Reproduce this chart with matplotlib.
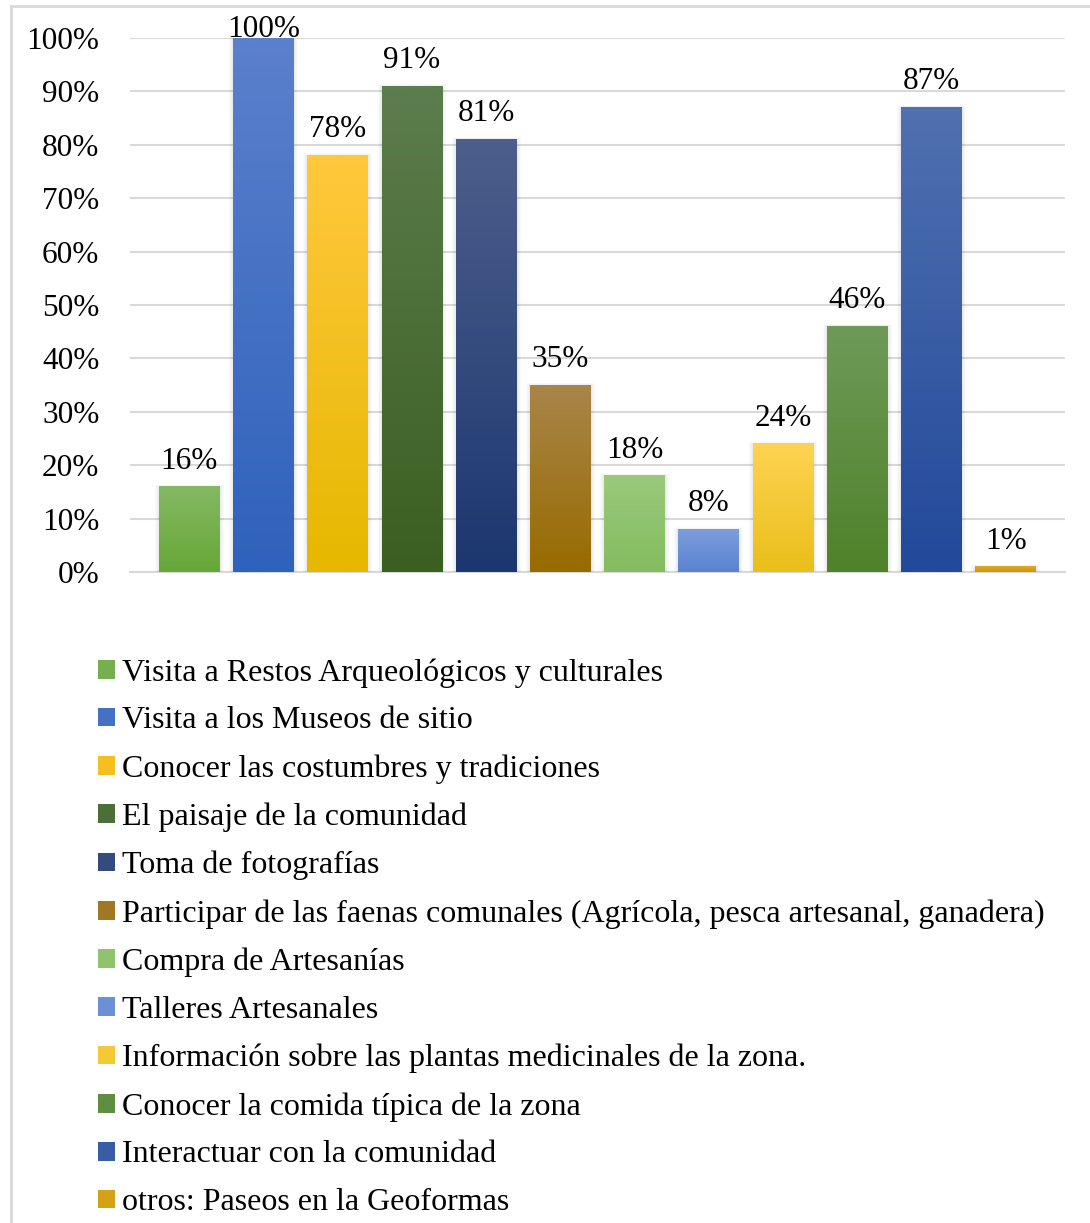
import numpy as np
import matplotlib
matplotlib.use("Agg")
import matplotlib.pyplot as plt
from matplotlib.patches import Patch, Rectangle
from matplotlib.colors import to_rgb
from matplotlib.lines import Line2D

# Data
categories = [
    "Visita a Restos Arqueológicos y culturales",
    "Visita a los Museos de sitio",
    "Conocer las costumbres y tradiciones",
    "El paisaje de la comunidad",
    "Toma de fotografías",
    "Participar de las faenas comunales (Agrícola, pesca artesanal, ganadera)",
    "Compra de Artesanías",
    "Talleres Artesanales",
    "Información sobre las plantas medicinales de la zona.",
    "Conocer la comida típica de la zona",
    "Interactuar con la comunidad",
    "otros: Paseos en la Geoformas",
]
values = [0.16, 1.00, 0.78, 0.91, 0.81, 0.35, 0.18, 0.08, 0.24, 0.46, 0.87, 0.01]
labels = ["16%", "100%", "78%", "91%", "81%", "35%", "18%", "8%", "24%", "46%", "87%", "1%"]

# gradient colours (top, bottom) for each bar
top_colors = ["#85b863", "#5b80cc", "#ffc83d", "#5c7d4d", "#4c5f8c", "#a88549",
              "#9ac97c", "#7d9edc", "#fed352", "#6e9a58", "#5070b0", "#dba82c"]
bottom_colors = ["#66a838", "#2f62bc", "#e6b800", "#3b5f21", "#1c376f", "#986b00",
                 "#84bc5f", "#5a82cf", "#e9bf1a", "#4f822a", "#22499a", "#cf9900"]

plt.rcParams["font.family"] = ["Liberation Serif", "DejaVu Serif"]
FS = 22.5

W, H = 1090, 1223
fig = plt.figure(figsize=(W / 100, H / 100), dpi=100)
ax = fig.add_axes([130 / W, 1 - 572 / H, (1065 - 130) / W, (572 - 38) / H])

x = np.arange(len(values))
width = 0.82
bars = ax.bar(x, values, width=width, color="none", zorder=3)

px_x = 1 / 74.2   # one pixel in data units
px_y = 1 / 534.0
for i, b in enumerate(bars):
    x0, w, h = b.get_x(), b.get_width(), b.get_height()
    # soft shadow
    for k in range(1, 5):
        ax.add_patch(Rectangle((x0 - k * px_x, 0), w + 2 * k * px_x, h + k * px_y * 0.5,
                               facecolor="#000000", alpha=0.018, edgecolor="none", zorder=2))
    # vertical gradient clipped to the bar
    c1, c2 = np.array(to_rgb(top_colors[i])), np.array(to_rgb(bottom_colors[i]))
    t = np.linspace(0, 1, 64)[:, None]
    grad = (c1 * (1 - t) + c2 * t)[:, None, :]
    ax.imshow(grad, extent=[x0, x0 + w, 0, h], aspect="auto", origin="upper",
              interpolation="bilinear", zorder=3)
    # data label, kept inside the plot area like Excel does
    ly = min(values[i] + 18 * px_y, 1.0 + 1 * px_y)
    ax.text(x[i], ly, labels[i], ha="center", va="baseline", fontsize=FS,
            color="#000000", zorder=5, clip_on=False)

ax.set_xlim(-0.8, len(values) - 1 + 0.8)
ax.set_ylim(0, 1.0)
ax.set_yticks(np.arange(0, 1.01, 0.1))
ax.set_yticklabels([f"{int(round(v * 100))}%" for v in np.arange(0, 1.01, 0.1)])
ax.tick_params(axis="y", length=0, pad=22, labelsize=FS)
ax.set_xticks([])
ax.grid(axis="y", color="#d9d9d9", linewidth=1.5, zorder=0)
ax.set_axisbelow(True)
for s in ["top", "right", "left"]:
    ax.spines[s].set_visible(False)
ax.spines["bottom"].set_color("#d9d9d9")
ax.spines["bottom"].set_linewidth(1.5)
ax.spines["bottom"].set_zorder(1)

# legend
mid_colors = [tuple((np.array(to_rgb(a)) + np.array(to_rgb(b))) / 2)
              for a, b in zip(top_colors, bottom_colors)]
handles = [Patch(facecolor=c, edgecolor="none") for c in mid_colors]
fig.legend(handles, categories, loc="upper left", bbox_to_anchor=(98 / W, 1 - 658 / H),
           frameon=False, fontsize=23, handlelength=0.53, handleheight=0.53,
           handletextpad=0.22, labelspacing=0.59, borderpad=0, borderaxespad=0)

# chart border (only left and top edges visible)
fig.add_artist(Line2D([11 / W, 11 / W], [0, 1 - 6 / H], color="#d9d9d9", linewidth=2,
                      transform=fig.transFigure))
fig.add_artist(Line2D([11 / W, 1], [1 - 6 / H, 1 - 6 / H], color="#d9d9d9", linewidth=2,
                      transform=fig.transFigure))

fig.savefig("out.png", dpi=100)
